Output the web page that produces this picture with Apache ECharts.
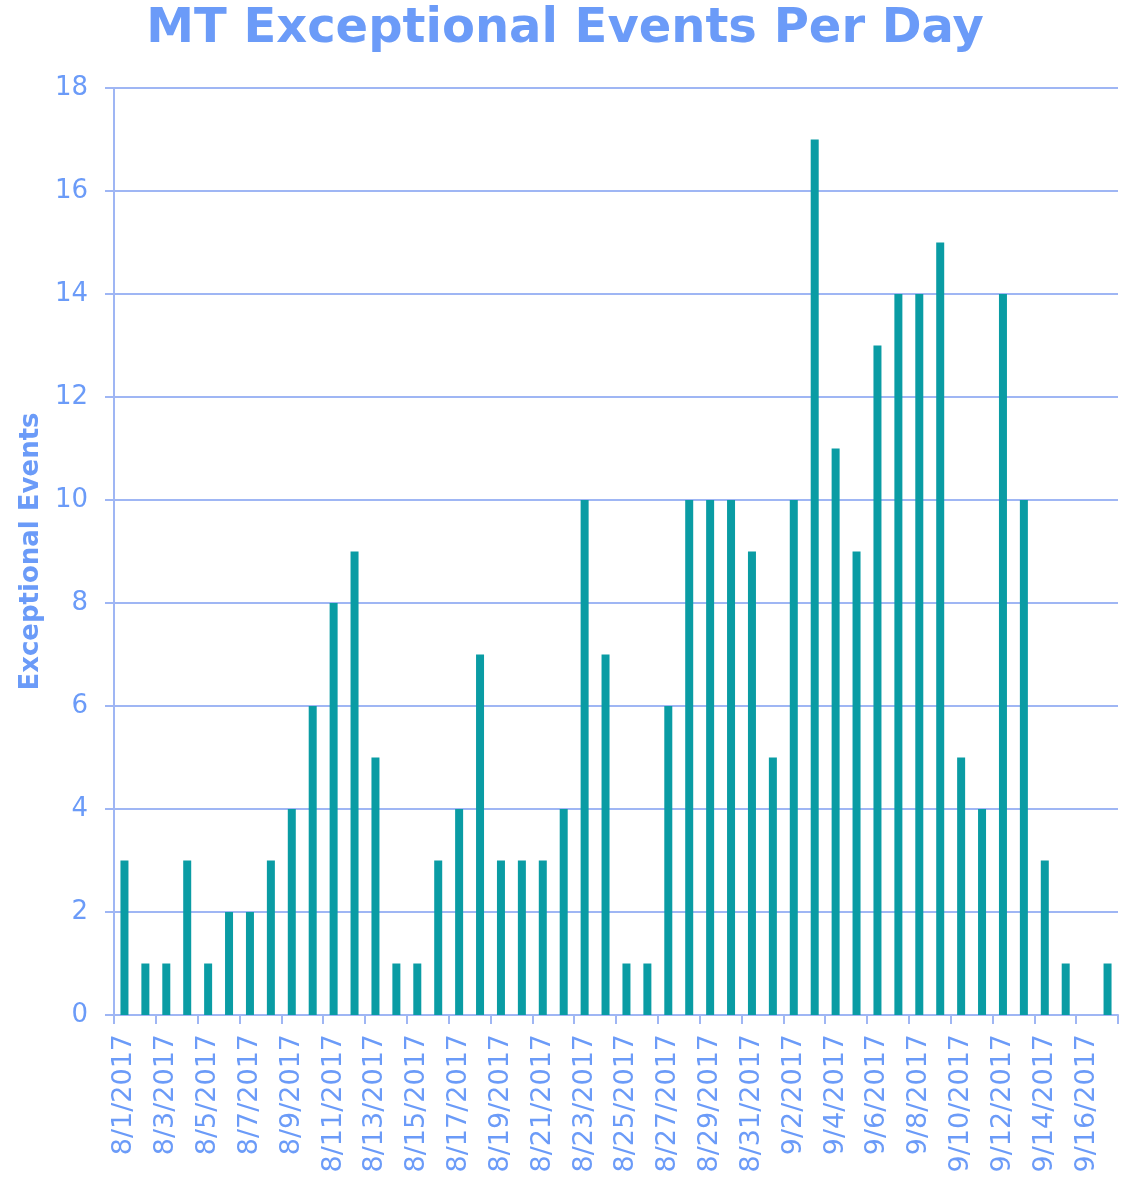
<!DOCTYPE html>
<html>
<head>
<meta charset="utf-8">
<script src="https://cdn.jsdelivr.net/npm/echarts@6/dist/echarts.min.js"></script>
<style>html,body{margin:0;padding:0;background:#fff}#c{width:1130px;height:1178px}</style>
</head>
<body>
<div id="c"></div>
<script>
const categories = ["8/1/2017","8/2/2017","8/3/2017","8/4/2017","8/5/2017","8/6/2017","8/7/2017","8/8/2017","8/9/2017","8/10/2017","8/11/2017","8/12/2017","8/13/2017","8/14/2017","8/15/2017","8/16/2017","8/17/2017","8/18/2017","8/19/2017","8/20/2017","8/21/2017","8/22/2017","8/23/2017","8/24/2017","8/25/2017","8/26/2017","8/27/2017","8/28/2017","8/29/2017","8/30/2017","8/31/2017","9/1/2017","9/2/2017","9/3/2017","9/4/2017","9/5/2017","9/6/2017","9/7/2017","9/8/2017","9/9/2017","9/10/2017","9/11/2017","9/12/2017","9/13/2017","9/14/2017","9/15/2017","9/16/2017","9/17/2017"];
const events = [3,1,1,3,1,2,2,3,4,6,8,9,5,1,1,3,4,7,3,3,3,4,10,7,1,1,6,10,10,10,9,5,10,17,11,9,13,14,14,15,5,4,14,10,3,1,0,1];
const titleText = "MT Exceptional Events Per Day";
const yAxisName = "Exceptional Events";

const textColor = "#6b9bf8";
const lineColor = "#9fb6f4";
const font = "DejaVu Sans, Verdana, sans-serif";

const chart = echarts.init(document.getElementById('c'));
chart.setOption({
  animation: false,
  backgroundColor: '#fff',
  title: {
    text: titleText, left: 'center', top: 1,
    textStyle: {color: textColor, fontSize: 48, fontWeight: 'bold', fontFamily: font}
  },
  grid: {left: 114, right: 12, top: 88, bottom: 163, containLabel: false},
  xAxis: {
    type: 'category', data: categories, boundaryGap: true,
    axisLine: {show: true, lineStyle: {color: lineColor, width: 2}},
    axisTick: {show: true, length: 9, interval: 1, lineStyle: {color: lineColor, width: 2}},
    axisLabel: {interval: 1, rotate: 90, margin: 19, color: textColor, fontSize: 27, fontFamily: font},
    splitLine: {show: false}
  },
  yAxis: {
    type: 'value', min: 0, max: 18, interval: 2,
    name: yAxisName, nameLocation: 'middle', nameGap: 68,
    nameTextStyle: {color: textColor, fontSize: 26, fontWeight: 'bold', fontFamily: font},
    axisLine: {show: true, lineStyle: {color: lineColor, width: 2}},
    axisTick: {show: true, length: 9, lineStyle: {color: lineColor, width: 2}},
    axisLabel: {margin: 26, color: textColor, fontSize: 26, fontFamily: font},
    splitLine: {show: true, lineStyle: {color: lineColor, width: 2}}
  },
  series: [{
    type: 'bar', data: events, barWidth: 8,
    itemStyle: {color: '#0a9ca4'}
  }]
});
</script>
</body>
</html>
